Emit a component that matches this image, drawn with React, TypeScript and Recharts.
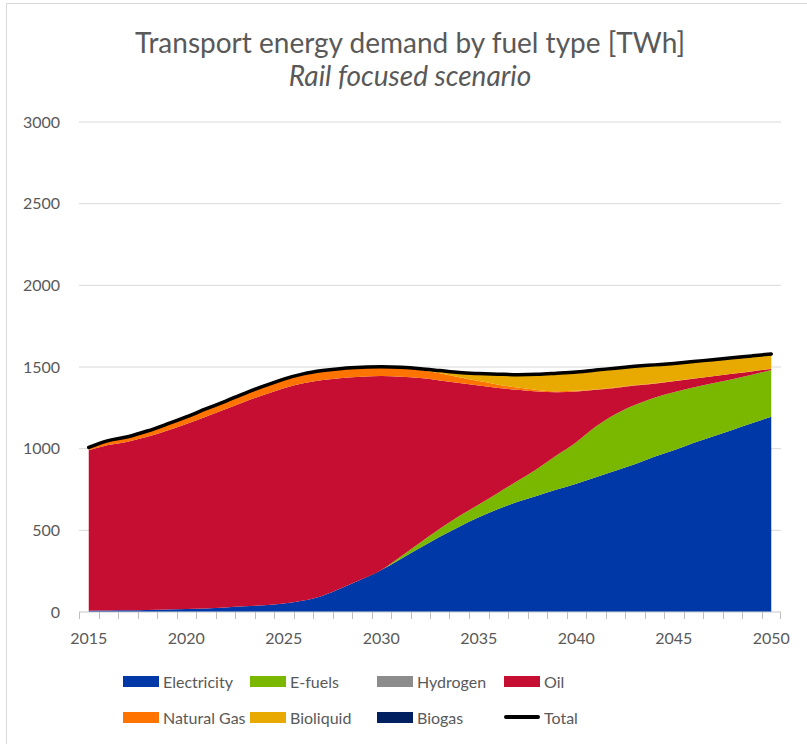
import React from "react";
import { ComposedChart, Area, Line, XAxis, YAxis, CartesianGrid } from "recharts";

const years = [
    2015, 2016, 2017, 2018, 2019, 2020, 2021, 2022, 2023, 2024,
    2025, 2026, 2027, 2028, 2029, 2030, 2031, 2032, 2033, 2034,
    2035, 2036, 2037, 2038, 2039, 2040, 2041, 2042, 2043, 2044,
    2045, 2046, 2047, 2048, 2049, 2050,
];

const electricity = [
    8, 9, 10, 12, 15, 18, 22, 28, 35, 42,
    52, 70, 100, 148, 200, 257, 325, 393, 460, 522,
    580, 630, 675, 712, 750, 785, 825, 865, 905, 950,
    990, 1035, 1075, 1115, 1155, 1196,
];
const eFuels = [
    0, 0, 0, 0, 0, 0, 0, 0, 0, 0,
    0, 0, 0, 0, 0, 0, 15, 33, 50, 65,
    78, 100, 128, 165, 210, 255, 310, 345, 362, 362,
    355, 340, 325, 310, 298, 286,
];
const hydrogen = [
    0, 0, 0, 0, 0, 0, 0, 0, 0, 0,
    0, 0, 0, 0, 0, 0, 0, 0, 0, 0,
    0, 0, 0, 0, 0, 0, 0, 0, 0, 0,
    0, 0, 0, 0, 0, 0,
];
const oil = [
    982, 1013, 1033, 1061, 1095, 1133, 1174, 1213, 1253, 1288,
    1318, 1330, 1320, 1285, 1241, 1188, 1100, 1006, 908, 815,
    728, 642, 557, 473, 385, 310, 225, 162, 119, 86,
    67, 53, 43, 33, 20, 6,
];
const naturalGas = [
    18, 27, 30, 35, 40, 44, 47, 49, 51, 54,
    56, 58, 58, 58, 57, 56, 54, 50, 44, 36,
    28, 20, 14, 9, 6, 4, 3, 3, 2, 2,
    2, 1, 1, 1, 1, 1,
];
const bioliquid = [
    0, 0, 0, 0, 0, 0, 0, 0, 0, 0,
    0, 0, 0, 0, 0, 0, 2, 6, 14, 26,
    46, 64, 79, 96, 111, 116, 118, 118, 116, 113,
    108, 104, 101, 97, 94, 91,
];
const biogas = [
    0, 0, 0, 0, 0, 0, 0, 0, 0, 0,
    0, 0, 0, 0, 0, 0, 0, 0, 0, 0,
    0, 0, 0, 0, 0, 0, 0, 0, 0, 0,
    0, 0, 0, 0, 0, 0,
];
const total = [
    1008, 1049, 1073, 1108, 1150, 1195, 1243, 1290, 1339, 1384,
    1426, 1458, 1478, 1491, 1498, 1501, 1498, 1490, 1478, 1466,
    1460, 1456, 1453, 1455, 1462, 1470, 1481, 1493, 1504, 1513,
    1522, 1533, 1545, 1556, 1568, 1580,
];

const yTicks = [0, 500, 1000, 1500, 2000, 2500, 3000];
const labelYears = [2015, 2020, 2025, 2030, 2035, 2040, 2045, 2050];

const series = [
    { key: "electricity", name: "Electricity", color: "#0038A8" },
    { key: "eFuels", name: "E-fuels", color: "#7AB800" },
    { key: "hydrogen", name: "Hydrogen", color: "#8C8C8C" },
    { key: "oil", name: "Oil", color: "#C50E31" },
    { key: "naturalGas", name: "Natural Gas", color: "#FF7300" },
    { key: "bioliquid", name: "Bioliquid", color: "#E8A900" },
    { key: "biogas", name: "Biogas", color: "#002060" },
];

const data = years.map((year, i) => ({
    year,
    electricity: electricity[i],
    eFuels: eFuels[i],
    hydrogen: hydrogen[i],
    oil: oil[i],
    naturalGas: naturalGas[i],
    bioliquid: bioliquid[i],
    biogas: biogas[i],
    total: total[i],
}));

const FONT = "Lato, 'Open Sans', sans-serif";
const TEXT = "#595959";
const GRID = "#d9d9d9";
const TICK = "#bfbfbf";

// every year gets a tick; the marks sit half a step to the left (Excel category style)
function YearTick(props: any) {
    const { x, y, payload, index } = props;
    const axisWidth = typeof props.width === "number" && props.width > 0 ? props.width : 702;
    const half = axisWidth / years.length / 2;
    const last = index === years.length - 1;
    const left = Math.round(x - half) + 0.5;
    const right = Math.round(x + half) - 0.5;
    return (
        <g>
            <path d={`M${left},${y}V${y + 7}`} stroke={TICK} strokeWidth={1} fill="none" />
            {last && <path d={`M${right},${y}V${y + 7}`} stroke={TICK} strokeWidth={1} fill="none" />}
            {labelYears.includes(payload.value) && (
                <text x={x} y={y + 32} textAnchor="middle" fill={TEXT} fontSize={16} fontFamily={FONT}>
                    {payload.value}
                </text>
            )}
        </g>
    );
}

function LegendBox() {
    const items = [
        ...series.map(s => ({ name: s.name, color: s.color, line: false })),
        { name: "Total", color: "#000", line: true },
    ];
    return (
        <div style={{
            position: "absolute", left: 123, top: 663,
            display: "grid", gridTemplateColumns: "127px 127px 127px 127px",
            gridAutoRows: "36px", fontFamily: FONT, fontSize: 16, color: TEXT,
        }}>
            {items.map(it => (
                <div key={it.name} style={{ display: "flex", alignItems: "center", whiteSpace: "nowrap" }}>
                    {it.line ? (
                        <div style={{ width: 36, height: 4, borderRadius: 2, background: it.color, marginRight: 4 }} />
                    ) : (
                        <div style={{ width: 36, height: 11, background: it.color, marginRight: 4 }} />
                    )}
                    <span>{it.name}</span>
                </div>
            ))}
        </div>
    );
}

export default function App() {
    return (
        <div style={{ position: "absolute", left: 0, top: 0, width: 807, height: 744, overflow: "hidden", background: "#fff" }}>
            <div style={{
                position: "absolute", left: 6, top: 3, width: 840, height: 800,
                border: `1px solid ${GRID}`, boxSizing: "border-box",
            }} />
            <div style={{
                position: "absolute", left: 0, top: 26, width: 820, textAlign: "center",
                fontFamily: FONT, color: TEXT, fontSize: 28, lineHeight: "33px",
            }}>
                <div>Transport energy demand by fuel type [TWh]</div>
                <div style={{ fontStyle: "italic" }}>Rail focused scenario</div>
            </div>
            <div style={{ position: "absolute", left: 0, top: 0 }}>
                <ComposedChart
                    width={807}
                    height={744}
                    data={data}
                    margin={{ top: 122, right: 26, left: 0, bottom: 90 }}
                >
                    <CartesianGrid vertical={false} stroke={GRID} strokeWidth={1} />
                    <XAxis
                        type="number"
                        dataKey="year"
                        domain={[years[0] - 0.5, years[years.length - 1] + 0.5]}
                        ticks={years}
                        interval={0}
                        axisLine={{ stroke: GRID }}
                        tickLine={false}
                        tickSize={0}
                        tickMargin={0}
                        height={42}
                        tick={YearTick}
                    />
                    <YAxis
                        type="number"
                        domain={[0, 3000]}
                        ticks={yTicks}
                        width={79}
                        axisLine={false}
                        tickLine={false}
                        tickSize={0}
                        tickMargin={19}
                        tick={{ fill: TEXT, fontSize: 16, fontFamily: FONT }}
                    />
                    {series.map(s => (
                        <Area
                            key={s.key}
                            type="monotone"
                            dataKey={s.key}
                            name={s.name}
                            stackId="fuel"
                            fill={s.color}
                            fillOpacity={1}
                            stroke="none"
                            isAnimationActive={false}
                        />
                    ))}
                    <Line
                        type="monotone"
                        dataKey="total"
                        name="Total"
                        stroke="#000"
                        strokeWidth={3.5}
                        strokeLinecap="round"
                        dot={false}
                        isAnimationActive={false}
                    />
                </ComposedChart>
            </div>
            <LegendBox />
        </div>
    );
}
